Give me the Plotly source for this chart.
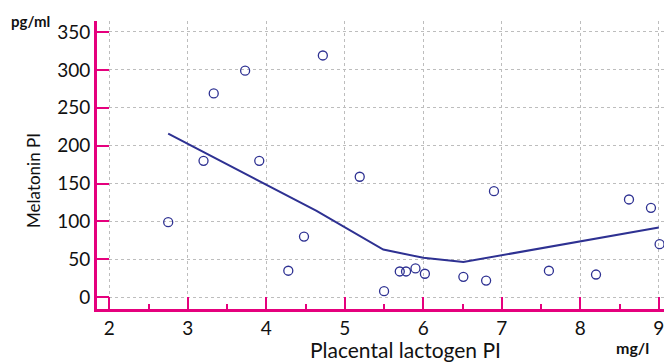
import plotly.graph_objects as go

# Data
placental_lactogen = [2.75, 3.20, 3.33, 3.73, 3.91, 4.28, 4.48, 4.72, 5.19, 5.50,
                      5.70, 5.78, 5.90, 6.02, 6.51, 6.80, 6.90, 7.60, 8.20, 8.62, 8.90, 9.01]
melatonin = [99, 180, 269, 299, 180, 35, 80, 319, 159, 8,
             34, 34, 38, 31, 27, 22, 140, 35, 30, 129, 118, 70]

fit_x = [2.75, 4.64, 5.49, 6.0, 6.51, 9.0]
fit_y = [216, 114, 63, 52, 46.5, 92]

x_ticks = [2, 3, 4, 5, 6, 7, 8, 9]
y_ticks = [0, 50, 100, 150, 200, 250, 300, 350]

NAVY = "#2e3192"
PINK = "#e5007d"
FONT = "Lato"

fig = go.Figure()
fig.add_trace(go.Scatter(x=fit_x, y=fit_y, mode="lines",
                         line=dict(color=NAVY, width=2), showlegend=False))
fig.add_trace(go.Scatter(x=placental_lactogen, y=melatonin, mode="markers",
                         marker=dict(symbol="circle-open", size=9, color=NAVY,
                                     line=dict(width=1.3, color=NAVY)),
                         showlegend=False))

fig.update_layout(
    width=664, height=354,
    margin=dict(l=89, r=0, t=13, b=53),
    paper_bgcolor="white", plot_bgcolor="white",
    font=dict(family=FONT, color="#111", size=18),
    xaxis=dict(range=[1.843, 9.168], tickvals=x_ticks, ticks="inside",
               ticklen=12, tickwidth=2, tickcolor=PINK,
               minor=dict(dtick=0.5, ticks="inside", ticklen=5, tickwidth=2,
                          tickcolor=PINK, showgrid=False),
               showline=True, linecolor=PINK, linewidth=3,
               showgrid=True, gridcolor="#bdbdbd", griddash="dot", gridwidth=1,
               zeroline=False, tickfont=dict(size=19, family=FONT, color="#111"),
               automargin=False),
    yaxis=dict(range=[-15.5, 364.5], tickvals=y_ticks, ticks="inside",
               ticklen=12, tickwidth=2, tickcolor=PINK,
               showline=True, linecolor=PINK, linewidth=3,
               showgrid=True, gridcolor="#bdbdbd", griddash="dot", gridwidth=1,
               zeroline=False, tickfont=dict(size=19, family=FONT, color="#111"),
               automargin=False),
)

ann_font = dict(family=FONT, color="#111")
fig.add_annotation(text="Melatonin PI", xref="paper", yref="paper",
                   x=-0.1096, y=0.448, xanchor="center", yanchor="middle", textangle=-90,
                   showarrow=False, font=dict(size=17, **ann_font))
fig.add_annotation(text="Placental lactogen PI", xref="paper", yref="paper",
                   x=0.5357, y=-0.142, xanchor="center", yanchor="middle",
                   showarrow=False, font=dict(size=21, **ann_font))
fig.add_annotation(text="<b>pg/ml</b>", xref="paper", yref="paper",
                   x=-0.153, y=1.0, xanchor="left", yanchor="middle",
                   showarrow=False, font=dict(size=15, **ann_font))
fig.add_annotation(text="<b>mg/l</b>", xref="paper", yref="paper",
                   x=0.932, y=-0.135, xanchor="center", yanchor="middle",
                   showarrow=False, font=dict(size=16, **ann_font))

fig.write_html("out.html")
